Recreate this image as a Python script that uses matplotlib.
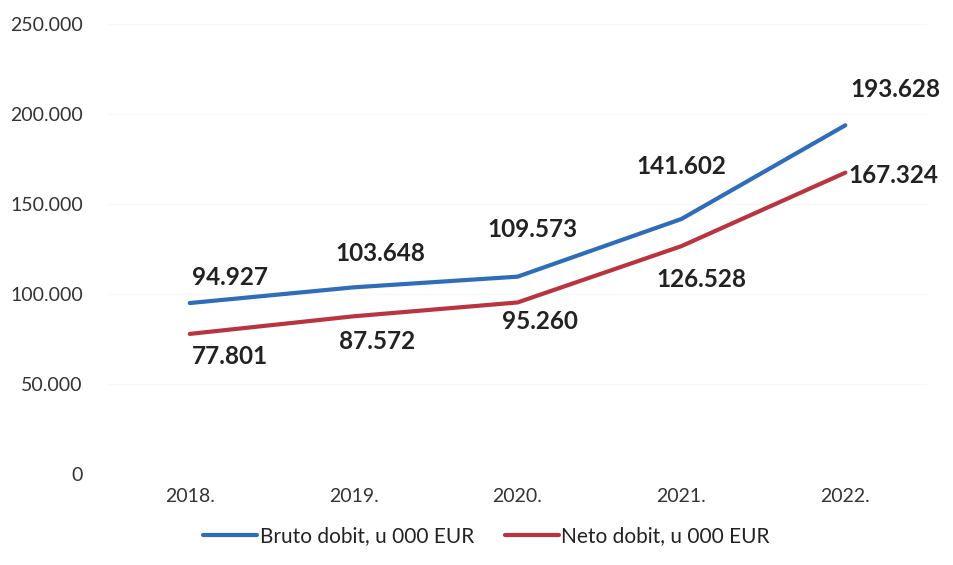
import matplotlib
matplotlib.use("Agg")
import matplotlib.pyplot as plt
from matplotlib.ticker import FuncFormatter

years = ["2018.", "2019.", "2020.", "2021.", "2022."]
bruto = [94927, 103648, 109573, 141602, 193628]
neto = [77801, 87572, 95260, 126528, 167324]
bruto_labels = ["94.927", "103.648", "109.573", "141.602", "193.628"]
neto_labels = ["77.801", "87.572", "95.260", "126.528", "167.324"]

plt.rcParams['font.family'] = ['Lato', 'DejaVu Sans']

fig = plt.figure(figsize=(9.54, 5.65), dpi=100)
ax = fig.add_axes([0.113, 0.161, 0.859, 0.797])

blue = "#2F6DB9"
red = "#B9343F"
x = list(range(len(years)))
ax.plot(x, bruto, color=blue, lw=3, solid_capstyle='round', label="Bruto dobit, u 000 EUR")
ax.plot(x, neto, color=red, lw=3, solid_capstyle='round', label="Neto dobit, u 000 EUR")

boff = [(40, 26), (27, 34), (15, 47), (0, 52), (50, 36)]
noff = [(40, -23), (23, -25), (22, -19), (20, -33), (48, -3)]
for i in x:
    ax.annotate(bruto_labels[i], (i, bruto[i]), xytext=boff[i], textcoords='offset pixels',
                ha='center', va='center', fontsize=17.5, fontweight='bold', color='#222222')
    ax.annotate(neto_labels[i], (i, neto[i]), xytext=noff[i], textcoords='offset pixels',
                ha='center', va='center', fontsize=17.5, fontweight='bold', color='#222222')

ax.set_xlim(-0.5, 4.5)
ax.set_ylim(0, 250000)
ax.set_yticks([0, 50000, 100000, 150000, 200000, 250000])
ax.yaxis.set_major_formatter(FuncFormatter(lambda v, p: "0" if v == 0 else f"{int(v):,}".replace(",", ".")))
ax.set_xticks(x)
ax.set_xticklabels(years)
ax.tick_params(length=0, labelsize=14, colors='#333333', pad=10)
ax.tick_params(axis='y', pad=18)
for s in ax.spines.values():
    s.set_visible(False)
ax.grid(axis='y', color='#f8f8f8', lw=0.8)
ax.set_axisbelow(True)

fig.legend(loc='lower center', bbox_to_anchor=(0.51, 0.0), ncol=2, frameon=False,
           fontsize=15, handlelength=2.6, handletextpad=0.1, columnspacing=1.5,
           labelcolor='#222222')

fig.savefig("out.png", dpi=100)
